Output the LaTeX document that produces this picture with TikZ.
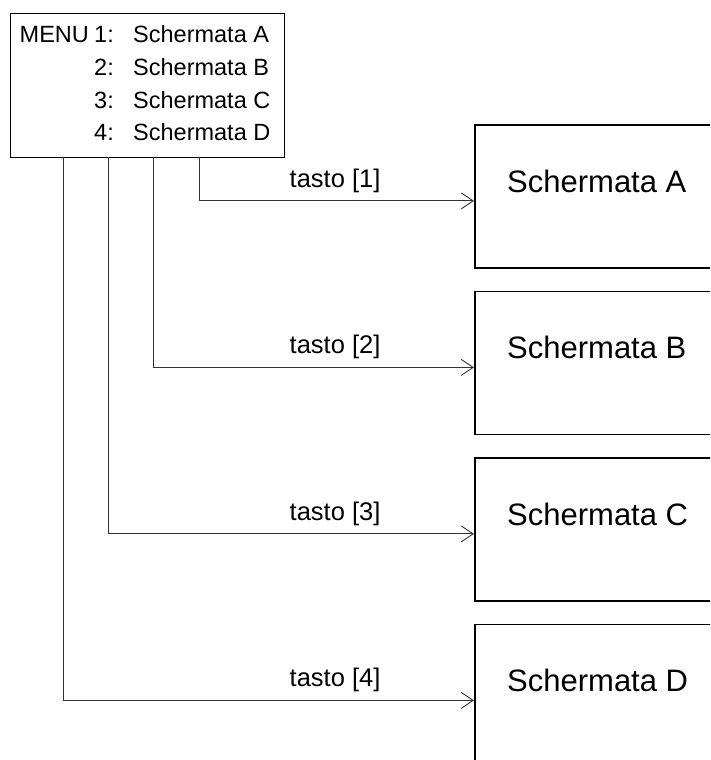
\documentclass[tikz,border=0pt]{standalone}
\usepackage{fontspec}
\setmainfont{Liberation Sans}
\usetikzlibrary{arrows.meta}
\tikzset{
  screen/.style={draw=black, line width=1.8pt, minimum width=270pt, minimum height=143pt, anchor=north west, inner sep=0pt},
  menubox/.style={draw=black, line width=1.3pt, minimum width=274pt, minimum height=144pt, anchor=north west, inner sep=0pt},
  conn/.style={draw=black!80, line width=0.9pt, -{Straight Barb[length=12pt,width=16pt,line width=0.9pt]}},
  mtxt/.style={inner sep=0pt, anchor=base west, font=\fontsize{23.5}{28}\selectfont},
  ktxt/.style={inner sep=0pt, anchor=base west, font=\fontsize{25.5}{30}\selectfont},
  stxt/.style={inner sep=0pt, anchor=base west, font=\fontsize{31}{37}\selectfont},
}
\begin{document}
\begin{tikzpicture}[x=1pt,y=-1pt]
\useasboundingbox (0,0) rectangle (710,760);
\clip (0,0) rectangle (710,760);
% menu
\node[menubox] (menu) at (9.5,13) {};
\node[mtxt] (m0) at (19.5,43) {MENU};
\node[mtxt] (m1) at (94,43) {1:};
\node[mtxt] (m2) at (94,75.5) {2:};
\node[mtxt] (m3) at (94,108) {3:};
\node[mtxt] (m4) at (94,140.5) {4:};
\node[mtxt] (s1) at (133,43) {Schermata A};
\node[mtxt] (s2) at (133,75.5) {Schermata B};
\node[mtxt] (s3) at (133,108) {Schermata C};
\node[mtxt] (s4) at (133,140.5) {Schermata D};
% screens
\node[screen] (A) at (474,124) {};
\node[screen] (B) at (474,290.5) {};
\node[screen] (C) at (474,457) {};
\node[screen] (D) at (474,623.5) {};
\node[stxt] (tA) at (507,192) {Schermata A};
\node[stxt] (tB) at (507,358.5) {Schermata B};
\node[stxt] (tC) at (507,525) {Schermata C};
\node[stxt] (tD) at (507,691.5) {Schermata D};
% connectors
\coordinate (pA) at (199,157);
\coordinate (pB) at (153,157);
\coordinate (pC) at (108,157);
\coordinate (pD) at (63,157);
\draw[conn] (pA) |- ([yshift=-4.5pt]A.west);
\draw[conn] (pB) |- ([yshift=-4.5pt]B.west);
\draw[conn] (pC) |- ([yshift=-4.5pt]C.west);
\draw[conn] (pD) |- ([yshift=-4.5pt]D.west);
% labels
\node[ktxt] (k1) at (289.5,187) {tasto [1]};
\node[ktxt] (k2) at (289.5,353.5) {tasto [2]};
\node[ktxt] (k3) at (289.5,520) {tasto [3]};
\node[ktxt] (k4) at (289.5,686.5) {tasto [4]};
\end{tikzpicture}
\end{document}
